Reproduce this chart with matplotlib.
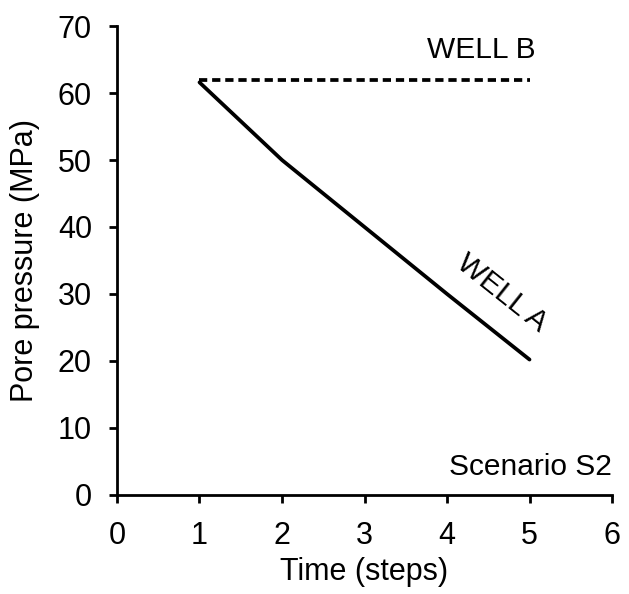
import numpy as np
import matplotlib
matplotlib.use("Agg")
import matplotlib.pyplot as plt

plt.rcParams['font.family'] = ['Liberation Sans', 'DejaVu Sans']

# pore pressure per time step for the two wells
steps = [1, 2, 3, 4, 5]
well_a = [61.6, 50.0, 40.0, 30.0, 20.2]
well_b = [62.0, 62.0, 62.0, 62.0, 62.0]

fig = plt.figure(figsize=(6.29, 5.94), dpi=100)
ax = fig.add_axes([0.186, 0.167, 0.787, 0.789])

ax.plot(steps, well_a, color='black', lw=2.7, solid_capstyle='round')
ax.plot(steps, well_b, color='black', lw=2.7, ls=(0, (2.2, 1.3)),
        dash_capstyle='butt')

ax.set_xlim(0, 6)
ax.set_ylim(0, 70)
ax.set_xticks(np.arange(0, 7, 1))
ax.set_yticks(np.arange(0, 71, 10))

for side in ['top', 'right']:
    ax.spines[side].set_visible(False)
for side in ['left', 'bottom']:
    ax.spines[side].set_linewidth(2.0)
ax.tick_params(direction='out', length=6, width=2.0, labelsize=22)
ax.tick_params(axis='x', pad=13)
ax.tick_params(axis='y', pad=12)

ax.set_xlabel('Time (steps)', fontsize=22, labelpad=4)
ax.set_ylabel('Pore pressure (MPa)', fontsize=22, labelpad=13)

ax.text(4.42, 66.5, 'WELL B', fontsize=21.5, ha='center', va='center')
ax.text(4.66, 30.1, 'WELL A', fontsize=21.5, ha='center', va='center',
        rotation=-38.5, rotation_mode='anchor')
ax.text(6.0, 4.2, 'Scenario S2', fontsize=21.5, ha='right', va='center')

fig.savefig('out.png', dpi=100)
